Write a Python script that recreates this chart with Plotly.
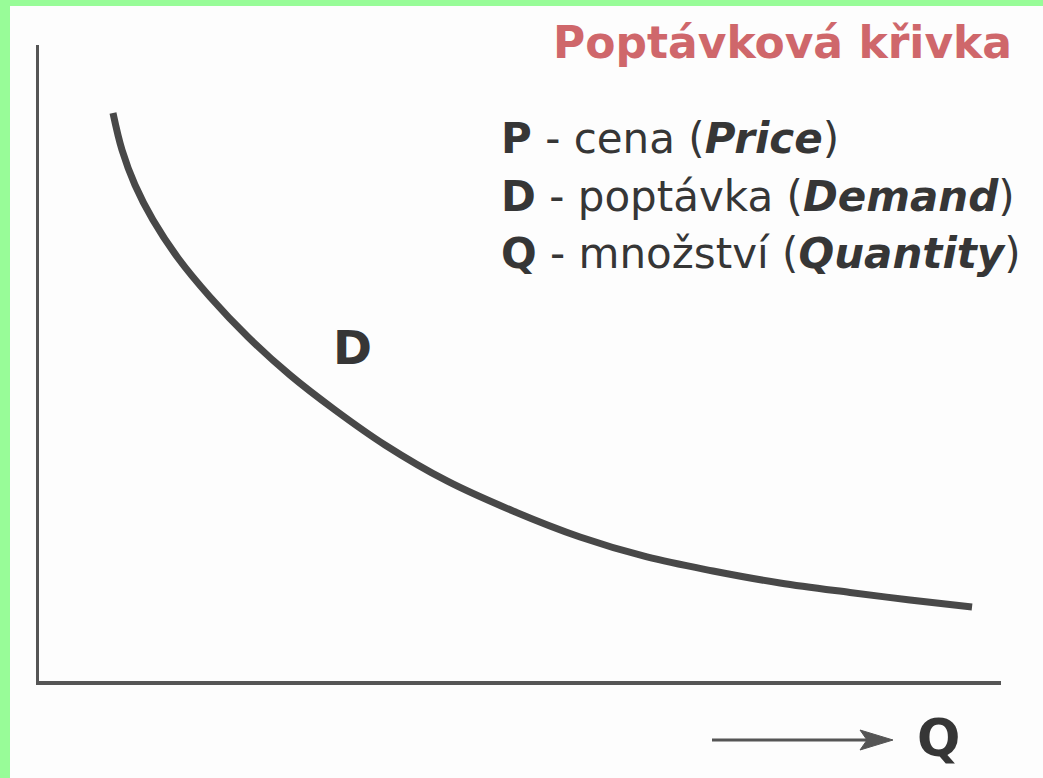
import plotly.graph_objects as go

# demand curve (Q, P in arbitrary units, axes 0..10)
quantity = [0.769, 0.863, 0.998, 1.185, 1.445, 1.778, 2.173, 2.609, 3.077, 3.597,
            4.241, 4.927, 5.624, 6.320, 7.006, 7.703, 8.430, 9.054, 9.699]
price = [8.931, 8.349, 7.799, 7.248, 6.651, 6.038, 5.409, 4.811, 4.261, 3.711,
         3.145, 2.673, 2.264, 1.950, 1.730, 1.541, 1.392, 1.274, 1.164]

title_text = "Poptávková křivka"
legend_lines = [
    "<b>P</b> - cena (<b><i>Price</i></b>)",
    "<b>D</b> - poptávka (<b><i>Demand</i></b>)",
    "<b>Q</b> - množství (<b><i>Quantity</i></b>)",
]
curve_label = "D"
axis_label = "Q"

W, H = 1043, 778
L, R, T, B = 39, 42, 45, 97
PW, PH = W - L - R, H - T - B

FONT = "DejaVu Sans"
INK = "#363636"
GREEN = "#98fc98"


def px(x, y):
    # pixel position -> paper coords (for labels / decorations)
    return (x - L) / PW, (H - B - y) / PH


fig = go.Figure()
fig.add_trace(go.Scatter(
    x=quantity, y=price, mode="lines",
    line=dict(color="#484848", width=7, shape="spline", smoothing=1.0),
    hoverinfo="skip", showlegend=False,
))

annotations = []
tx, ty = px(551, 43)
annotations.append(dict(text="<b>" + title_text + "</b>", x=tx, y=ty,
                        xanchor="left", yanchor="middle",
                        font=dict(family=FONT, size=44, color="#cf676b")))
for line, cy in zip(legend_lines, [138, 197, 253]):
    lx, ly = px(499, cy)
    annotations.append(dict(text=line, x=lx, y=ly, xanchor="left", yanchor="middle",
                            font=dict(family=FONT, size=42, color=INK)))
dx, dy = px(331, 348)
annotations.append(dict(text="<b>" + curve_label + "</b>", x=dx, y=dy,
                        xanchor="left", yanchor="middle",
                        font=dict(family=FONT, size=47, color=INK)))
qx, qy = px(915, 738)
annotations.append(dict(text="<b>" + axis_label + "</b>", x=qx, y=qy,
                        xanchor="left", yanchor="middle",
                        font=dict(family=FONT, size=51, color=INK)))
for a in annotations:
    a.update(xref="paper", yref="paper", showarrow=False)

# arrow next to Q
ax0, ay0 = px(712, 740)
ax1, _ = px(868, 740)
shapes = [
    dict(type="rect", xref="paper", yref="paper", layer="below",
         x0=px(0, 0)[0], x1=px(W, 0)[0], y0=px(0, 6)[1], y1=px(0, 0)[1],
         fillcolor=GREEN, line_width=0),
    dict(type="rect", xref="paper", yref="paper", layer="below",
         x0=px(0, 0)[0], x1=px(10, 0)[0], y0=px(0, H)[1], y1=px(0, 0)[1],
         fillcolor=GREEN, line_width=0),
    dict(type="line", xref="paper", yref="paper",
         x0=ax0, y0=ay0, x1=ax1, y1=ay0, line=dict(color="#555555", width=3)),
]
hx = [px(893, 0)[0], px(860, 0)[0], px(867, 0)[0], px(860, 0)[0]]
hy = [px(0, 740)[1], px(0, 730)[1], px(0, 740)[1], px(0, 750)[1]]
path = "M{},{} L{},{} L{},{} L{},{} Z".format(hx[0], hy[0], hx[1], hy[1],
                                           hx[2], hy[2], hx[3], hy[3])
shapes.append(dict(type="path", xref="paper", yref="paper", path=path,
                   fillcolor="#555555", line=dict(color="#555555", width=1)))

fig.update_layout(
    width=W, height=H,
    margin=dict(l=L, r=R, t=T, b=B, pad=0),
    paper_bgcolor="#fdfdfd", plot_bgcolor="#fdfdfd",
    annotations=annotations, shapes=shapes,
    showlegend=False,
)
fig.update_xaxes(range=[0, 10], showline=True, linecolor="#555555", linewidth=4,
                 showgrid=False, zeroline=False, showticklabels=False, ticks="")
fig.update_yaxes(range=[0, 10], showline=True, linecolor="#555555", linewidth=3,
                 showgrid=False, zeroline=False, showticklabels=False, ticks="")

fig.write_html("out.html", config={"displayModeBar": False},
               post_script="document.body.style.margin='0';")
